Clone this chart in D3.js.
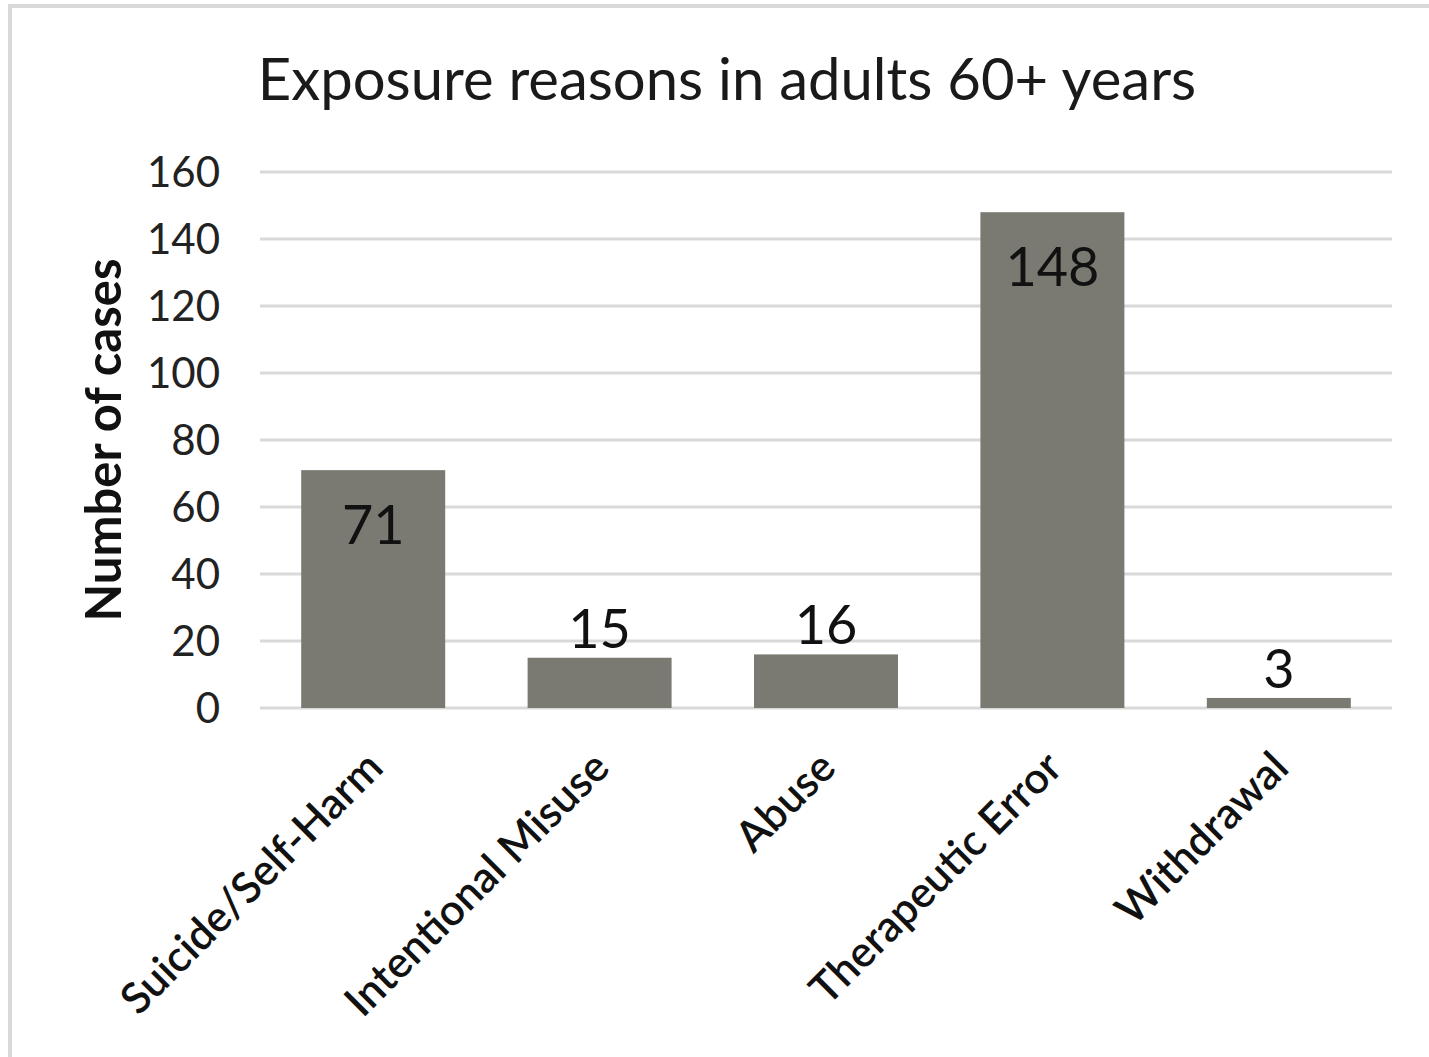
<!DOCTYPE html>
<html>
<head>
<meta charset="utf-8">
<script src="https://cdn.jsdelivr.net/npm/d3@7"></script>
<style>
  body { margin: 0; background: #fff; }
  text { font-family: Lato, "Open Sans", sans-serif; }
</style>
</head>
<body>
<div id="chart"></div>
<script>
/* DATA */
const categories = ["Suicide/Self-Harm", "Intentional Misuse", "Abuse", "Therapeutic Error", "Withdrawal"];
const cases = [71, 15, 16, 148, 3];
const yTicks = [0, 20, 40, 60, 80, 100, 120, 140, 160];
const insideLabel = [true, false, false, true, false];

/* CONSTANTS */
const width = 1429,
      height = 1057,
      margin = {top: 172, bottom: 349, left: 260, right: 37};

const data = categories.map((c, i) => ({cat: c, value: cases[i], inside: insideLabel[i]}));

const svg = d3.select("#chart")
  .append("svg")
    .attr("width", width)
    .attr("height", height);

/* FRAME */
svg.append("rect")
  .attr("x", 10)
  .attr("y", 6)
  .attr("width", width + 20)
  .attr("height", height + 20)
  .attr("fill", "white")
  .attr("stroke", "#d9d9d9")
  .attr("stroke-width", 4);

/* SCALES */
const xScale = d3.scaleBand()
  .domain(categories)
  .range([margin.left, width - margin.right])
  .paddingInner(0.364)
  .paddingOuter(0.182);

const yScale = d3.scaleLinear()
  .domain([0, 160])
  .range([height - margin.bottom, margin.top]);

/* GRIDLINES */
svg.append("g")
  .selectAll("line")
  .data(yTicks)
  .join("line")
    .attr("x1", margin.left)
    .attr("x2", width - margin.right)
    .attr("y1", d => yScale(d))
    .attr("y2", d => yScale(d))
    .attr("stroke", "#d9d9d9")
    .attr("stroke-width", 3);

/* Y AXIS */
const yAxis = svg.append("g")
  .attr("transform", `translate(${margin.left},0)`)
  .call(d3.axisLeft(yScale).tickValues(yTicks).tickSize(0).tickPadding(40));
yAxis.select(".domain").remove();
yAxis.selectAll("text")
  .style("font-family", "Lato")
  .style("font-size", "42px")
  .attr("fill", "#222")
  .attr("dy", "0.35em");

/* X AXIS */
const xAxis = svg.append("g")
  .attr("transform", `translate(0,${yScale(0)})`)
  .call(d3.axisBottom(xScale).tickSize(0).tickPadding(0));
xAxis.select(".domain").remove();
xAxis.selectAll("text")
  .style("font-family", "Lato")
  .style("font-size", "43px")
  .style("font-weight", "600")
  .attr("fill", "#111")
  .attr("text-anchor", "end")
  .attr("dy", null)
  .attr("y", 0)
  .attr("transform", "translate(12,62) rotate(-45)");

/* BARS */
svg.append("g")
  .selectAll("rect")
  .data(data)
  .join("rect")
    .attr("x", d => xScale(d.cat))
    .attr("y", d => yScale(d.value))
    .attr("width", xScale.bandwidth())
    .attr("height", d => yScale(0) - yScale(d.value))
    .attr("fill", "#7a7a73");

/* VALUE LABELS */
svg.append("g")
  .selectAll("text")
  .data(data)
  .join("text")
    .attr("x", d => xScale(d.cat) + xScale.bandwidth() / 2)
    .attr("y", d => d.inside ? yScale(d.value) + 74 : yScale(d.value) - 10)
    .attr("text-anchor", "middle")
    .style("font-size", "54px")
    .attr("fill", "#111")
    .text(d => d.value);

/* Y AXIS TITLE */
svg.append("text")
  .attr("transform", `translate(121,${(yScale(0) + yScale(160)) / 2}) rotate(-90)`)
  .attr("text-anchor", "middle")
  .style("font-size", "49px")
  .style("font-weight", "bold")
  .attr("fill", "#111")
  .text("Number of cases");

/* CHART TITLE */
svg.append("text")
  .attr("x", 727)
  .attr("y", 100)
  .attr("text-anchor", "middle")
  .style("font-size", "58px")
  .attr("fill", "#1a1a1a")
  .text("Exposure reasons in adults 60+ years");
</script>
</body>
</html>
